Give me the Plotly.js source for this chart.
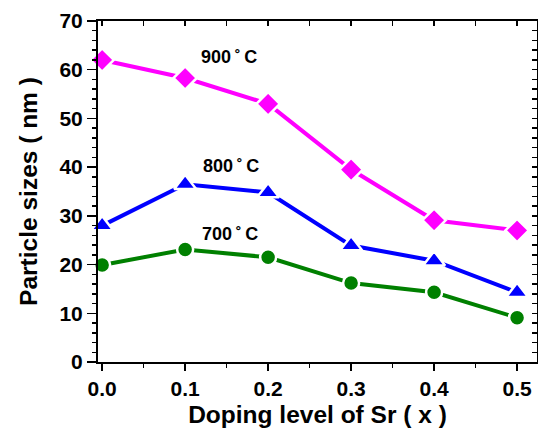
<!DOCTYPE html>
<html><head><meta charset="utf-8">
<script src="https://cdn.plot.ly/plotly-3.0.1.min.js"></script>
<style>body{margin:0;padding:0;background:#fff}#c{width:538px;height:429px}</style>
</head><body><div id="c"></div>
<script>
const doping = [0.0, 0.1, 0.2, 0.3, 0.4, 0.5];
const size900 = [62.0, 58.3, 53.0, 39.5, 29.1, 27.0];
const size800 = [28.0, 36.5, 34.8, 23.9, 20.8, 14.3];
const size700 = [19.9, 23.1, 21.5, 16.2, 14.3, 9.1];
const labels = ["900\u2009˚\u2009C", "800\u2009˚\u2009C", "700\u2009˚\u2009C"];
const labelY = [62.6, 40.2, 26.2];
const labelX = [0.153, 0.155, 0.154];

const fnt = "Liberation Sans, Arial, sans-serif";
function tr(y, color, sym, size, name){
  return {x: doping, y: y, type:'scatter', mode:'lines+markers', name:name,
    line:{color:color, width:4},
    marker:{symbol:sym, size: size, color:color, line:{color:'#fff', width:2.5}},
    cliponaxis:false};
}
const data = [
  tr(size900, '#ff00ff', 'diamond', 18, '900'),
  tr(size800, '#0000ff', 'triangle-up', 19, '800'),
  tr(size700, '#008000', 'circle', 16, '700'),
  {x:[0], y:[0], xaxis:'x2', yaxis:'y2', type:'scatter', mode:'markers', marker:{opacity:0}, showlegend:false, hoverinfo:'skip'}
];
const xr = [-0.005, 0.524], yr = [0, 70];
const layout = {
  width:538, height:429, showlegend:false,
  margin:{l:98, r:1, t:21, b:67},
  paper_bgcolor:'#fff', plot_bgcolor:'#fff',
  font:{family:fnt, color:'#000'},
  xaxis:{range:xr, tickvals:[0,0.1,0.2,0.3,0.4,0.5], ticktext:['0.0','0.1','0.2','0.3','0.4','0.5'],
    ticks:'outside', ticklen:7, tickwidth:1.5, tickcolor:'#000',
    minor:{dtick:0.05, tick0:0, ticks:'outside', ticklen:4, tickcolor:'#000', tickwidth:1.5},
    showline:true, linecolor:'#000', linewidth:2, showgrid:false, zeroline:false,
    tickfont:{size:21, family:fnt, weight:'bold'},
    title:{text:'<b>Doping level of Sr ( x )</b>', font:{size:24.5, family:fnt}, standoff:7}},
  yaxis:{range:yr, dtick:10, ticks:'outside', ticklen:9, tickwidth:1.5, tickcolor:'#000',
    minor:{dtick:2, ticks:'outside', ticklen:4, tickcolor:'#000', tickwidth:1.5},
    showline:true, linecolor:'#000', linewidth:2, showgrid:false, zeroline:false,
    tickfont:{size:21, family:fnt, weight:'bold'},
    title:{text:'<b>Particle sizes ( nm )</b>', font:{size:24.5, family:fnt}, standoff:15}},
  xaxis2:{range:xr, overlaying:'x', side:'top', dtick:0.05, tick0:0, ticks:'inside', ticklen:5, tickwidth:1.5, tickcolor:'#000',
    showticklabels:false, showline:true, linecolor:'#000', linewidth:2, showgrid:false, zeroline:false},
  yaxis2:{range:yr, overlaying:'y', side:'right', dtick:2, ticks:'inside', ticklen:5, tickwidth:1.5, tickcolor:'#000',
    showticklabels:false, showline:true, linecolor:'#000', linewidth:2, showgrid:false, zeroline:false},
  annotations: labels.map((t,i)=>({x:labelX[i], y:labelY[i], xref:'x', yref:'y', text:'<b>'+t+'</b>',
    showarrow:false, font:{size:18, family:fnt, color:'#000'}}))
};
Plotly.newPlot('c', data, layout, {displayModeBar:false, staticPlot:true});
</script></body></html>
